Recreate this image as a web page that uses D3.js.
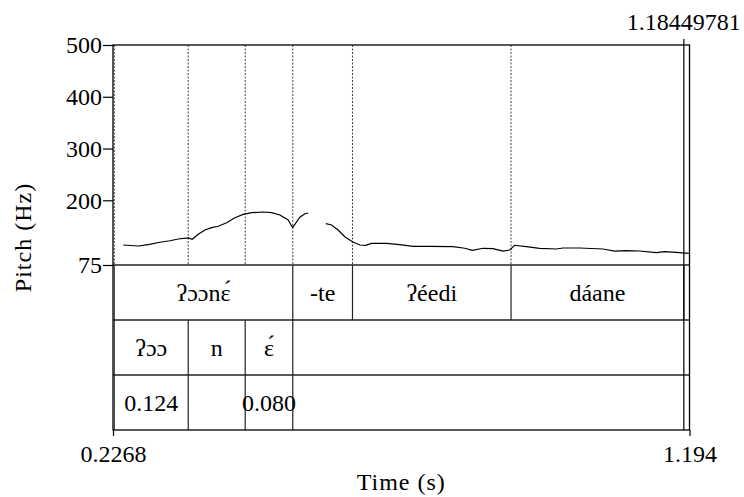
<!DOCTYPE html>
<html>
  <head>
    <title>Pitch and TextGrid</title>
    <script src="https://d3js.org/d3.v7.min.js"></script>
    <style>
        body { margin: 0; background-color: white; }
        svg { display: block; }
        svg text { font-family: "Liberation Serif", "DejaVu Serif", Times, serif !important; font-size: 24px; fill: black; }
    </style>
  </head>
  <body>
    <svg id="chart" width="744" height="497"></svg>
  </body>
  <script>
    // pitch contour (time in s, pitch in Hz), two voiced stretches
    const pitchSeg1 = [
        [0.2441, 113.6], [0.2692, 111.7], [0.2860, 114.2], [0.3056, 118.9], [0.3224, 121.9],
        [0.3363, 125.2], [0.3530, 127.2], [0.3597, 124.7], [0.3698, 134.3], [0.3810, 142.6],
        [0.3923, 147.1], [0.4033, 149.8], [0.4174, 156.7], [0.4313, 166.4], [0.4452, 172.9],
        [0.4593, 176.0], [0.4788, 177.4], [0.4929, 176.0], [0.5068, 171.6], [0.5207, 161.9],
        [0.5281, 147.1], [0.5403, 167.2], [0.5487, 174.1], [0.5542, 175.5]
    ];
    const pitchSeg2 = [
        [0.5839, 154.8], [0.5934, 152.3], [0.6045, 142.6], [0.6157, 129.7], [0.6286, 120.0],
        [0.6409, 113.6], [0.6509, 113.1], [0.6605, 116.9], [0.6856, 116.9], [0.7079, 114.2],
        [0.7302, 111.1], [0.7582, 111.1], [0.7973, 110.4], [0.8169, 107.3], [0.8298, 103.4],
        [0.8476, 107.3], [0.8644, 106.5], [0.8811, 102.0], [0.8924, 104.0], [0.9007, 113.1],
        [0.9204, 110.4], [0.9426, 107.3], [0.9706, 105.9], [0.9817, 107.8], [1.0097, 107.8],
        [1.0488, 105.9], [1.0684, 102.0], [1.0880, 102.6], [1.1103, 102.0], [1.1383, 98.8],
        [1.1522, 100.7], [1.1773, 98.8], [1.1929, 97.6]
    ];

    // TextGrid tiers
    const wordTier = [
        {start: 0.2290, end: 0.5284, label: "ʔɔɔnɛ́"},
        {start: 0.5284, end: 0.6286, label: "-te"},
        {start: 0.6286, end: 0.8946, label: "ʔéedi"},
        {start: 0.8946, end: 1.1845, label: "dáane"}
    ];
    const segTier = [
        {start: 0.2290, end: 0.3530, label: "ʔɔɔ"},
        {start: 0.3530, end: 0.4486, label: "n"},
        {start: 0.4486, end: 0.5284, label: "ɛ́"}
    ];
    const durTier = [
        {start: 0.2290, end: 0.3530, label: "0.124"},
        {start: 0.3530, end: 0.4486, label: ""},
        {start: 0.4486, end: 0.5284, label: "0.080"}
    ];

    const pitchTicks = [75, 200, 300, 400, 500];
    const timeTicks = [0.2268, 1.194];
    const timeTickLabels = ["0.2268", "1.194"];
    const cursorTime = 1.1845;
    const cursorLabel = "1.18449781";

    const svg = d3.select("#chart")
        .attr("font-family", "Liberation Serif");

    const mLeft = 113, mRight = 689.5, mTop = 45, pitchBottom = 265, rowH = 55;
    const tiers = [wordTier, segTier, durTier];
    const mBottom = pitchBottom + rowH * tiers.length;

    const x = d3.scaleLinear().domain([timeTicks[0], timeTicks[1]]).range([mLeft, mRight]);
    const y = d3.scaleLinear().domain([75, 500]).range([pitchBottom, mTop]);

    // dotted boundary lines through the pitch area
    const bounds = new Set();
    tiers.forEach(t => t.forEach(d => { bounds.add(d.start); bounds.add(d.end); }));
    bounds.delete(cursorTime);
    svg.append("g").selectAll("line")
        .data(Array.from(bounds))
        .enter()
        .append("line")
        .attr("x1", d => x(d)).attr("x2", d => x(d))
        .attr("y1", mTop).attr("y2", pitchBottom)
        .attr("stroke", "#444")
        .attr("stroke-width", 1)
        .attr("stroke-dasharray", "2,1.5");

    // pitch curve
    const line = d3.line().x(d => x(d[0])).y(d => y(d[1]));
    [pitchSeg1, pitchSeg2].forEach(seg => {
        svg.append("path")
            .attr("d", line(seg))
            .attr("fill", "none")
            .attr("stroke", "black")
            .attr("stroke-width", 1.2);
    });

    // tiers
    tiers.forEach((tier, i) => {
        const y0 = pitchBottom + i * rowH;
        const g = svg.append("g");
        g.selectAll("line")
            .data(tier)
            .enter()
            .append("line")
            .attr("x1", d => x(d.end)).attr("x2", d => x(d.end))
            .attr("y1", y0).attr("y2", y0 + rowH)
            .attr("stroke", "#222")
            .attr("stroke-width", 1.2);
        g.append("line")
            .attr("x1", x(tier[0].start)).attr("x2", x(tier[0].start))
            .attr("y1", y0).attr("y2", y0 + rowH)
            .attr("stroke", "#222")
            .attr("stroke-width", 1);
        g.selectAll("text")
            .data(tier)
            .enter()
            .append("text")
            .attr("x", d => x((d.start + d.end) / 2))
            .attr("y", y0 + rowH / 2 + 8)
            .attr("text-anchor", "middle")
            .text(d => d.label);
        g.append("line")
            .attr("x1", mLeft).attr("x2", mRight)
            .attr("y1", y0).attr("y2", y0)
            .attr("stroke", "#222")
            .attr("stroke-width", 1.3);
    });

    // cursor line with its time on top
    svg.append("line")
        .attr("x1", x(cursorTime)).attr("x2", x(cursorTime))
        .attr("y1", mTop - 6).attr("y2", mBottom)
        .attr("stroke", "black")
        .attr("stroke-width", 1.2);
    svg.append("text")
        .attr("x", x(cursorTime))
        .attr("y", 29.5)
        .attr("text-anchor", "middle")
        .text(cursorLabel);

    // frame
    svg.append("rect")
        .attr("x", mLeft).attr("y", mTop)
        .attr("width", mRight - mLeft).attr("height", mBottom - mTop)
        .attr("fill", "none")
        .attr("stroke", "black")
        .attr("stroke-width", 1.3);

    // axes
    const yAxis = svg.append("g")
        .attr("transform", `translate(${mLeft},0)`)
        .call(d3.axisLeft(y).tickValues(pitchTicks).tickSize(10).tickPadding(1).tickSizeOuter(0));
    const xAxis = svg.append("g")
        .attr("transform", `translate(0,${mBottom})`)
        .call(d3.axisBottom(x).tickValues(timeTicks).tickSize(6).tickPadding(9)
            .tickFormat((d, i) => timeTickLabels[i]).tickSizeOuter(0));
    [yAxis, xAxis].forEach(a => {
        a.attr("font-family", null).attr("font-size", null);
        a.select(".domain").remove();
        a.selectAll("line").attr("stroke", "black").attr("stroke-width", 1.2);
        a.selectAll("text").attr("fill", "black");
    });
    yAxis.selectAll("text").attr("dy", "0.33em");

    // axis titles, a little wider spaced as in the original
    svg.append("text")
        .attr("transform", `translate(31,${(mTop + mBottom) / 2}) rotate(-90)`)
        .attr("text-anchor", "middle")
        .attr("letter-spacing", 1)
        .text("Pitch (Hz)");
    svg.append("text")
        .attr("x", (mLeft + mRight) / 2)
        .attr("y", 490)
        .attr("text-anchor", "middle")
        .attr("letter-spacing", 1)
        .text("Time (s)");
  </script>
</html>
